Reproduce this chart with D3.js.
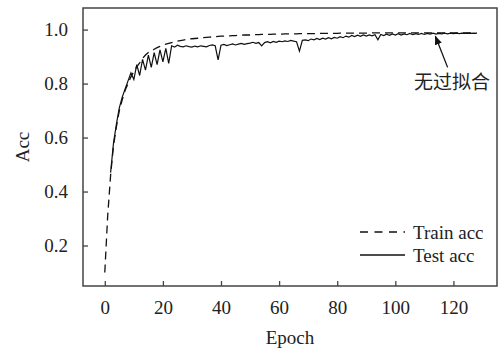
<!DOCTYPE html>
<html>
<head>
<meta charset="utf-8">
<script src="https://cdn.jsdelivr.net/npm/d3@7"></script>
<style>
  body { margin: 0; background: #fff; }
  svg { display: block; }
  text { font-family: "Liberation Serif", "Times New Roman", serif; fill: #222; }
  .cjk { font-family: "Noto Sans CJK SC", sans-serif; }
</style>
</head>
<body>
<svg id="chart" width="500" height="348"></svg>
<script>
// train accuracy, one value per epoch (0..128)
const trainAcc = [
  0.10, 0.31, 0.46, 0.57, 0.64, 0.70, 0.74, 0.775, 0.80, 0.825,
  0.845, 0.862, 0.877, 0.893, 0.906, 0.915, 0.921, 0.927, 0.933, 0.938,
  0.942, 0.946, 0.949, 0.952, 0.955, 0.957, 0.959, 0.961, 0.963, 0.965,
  0.966, 0.967, 0.968, 0.969, 0.970, 0.971, 0.972, 0.973, 0.974, 0.975,
  0.976, 0.976, 0.977, 0.977, 0.978, 0.978, 0.979, 0.979, 0.980, 0.980,
  0.980, 0.981, 0.981, 0.981, 0.982, 0.982, 0.982, 0.982, 0.983, 0.983,
  0.983, 0.983, 0.984, 0.984, 0.984, 0.984, 0.984, 0.985, 0.985, 0.985,
  0.985, 0.985, 0.985, 0.986, 0.986, 0.986, 0.986, 0.986, 0.986, 0.986,
  0.986, 0.987, 0.987, 0.987, 0.987, 0.987, 0.987, 0.987, 0.987, 0.987,
  0.987, 0.987, 0.988, 0.988, 0.988, 0.988, 0.988, 0.988, 0.988, 0.988,
  0.988, 0.988, 0.988, 0.988, 0.988, 0.988, 0.988, 0.988, 0.988, 0.988,
  0.988, 0.988, 0.988, 0.988, 0.988, 0.988, 0.988, 0.988, 0.988, 0.988,
  0.988, 0.988, 0.988, 0.988, 0.988, 0.988, 0.988, 0.988, 0.988
];
// test accuracy (no value recorded for epochs 0 and 1)
const testAcc = [
  null, null, 0.47, 0.58, 0.65, 0.71, 0.75, 0.78, 0.81, 0.84,
  0.815, 0.87, 0.83, 0.89, 0.85, 0.905, 0.86, 0.915, 0.87, 0.925,
  0.88, 0.93, 0.875, 0.94, 0.935, 0.942, 0.938, 0.936, 0.94, 0.937,
  0.935, 0.939, 0.936, 0.94, 0.938, 0.936, 0.941, 0.943, 0.94, 0.888,
  0.942, 0.945, 0.941, 0.944, 0.947, 0.943, 0.946, 0.949, 0.945, 0.948,
  0.95, 0.953, 0.949, 0.952, 0.94, 0.952, 0.955, 0.951, 0.956, 0.953,
  0.957, 0.955, 0.958, 0.956, 0.96, 0.957, 0.955, 0.92, 0.96, 0.962,
  0.959, 0.965, 0.962, 0.967, 0.963, 0.968, 0.965, 0.97, 0.966, 0.971,
  0.968, 0.974, 0.97, 0.976, 0.972, 0.978, 0.974, 0.979, 0.975, 0.98,
  0.976, 0.98, 0.977, 0.981, 0.962, 0.982, 0.978, 0.983, 0.979, 0.984,
  0.98, 0.985, 0.98, 0.984, 0.981, 0.986, 0.981, 0.985, 0.982, 0.986,
  0.982, 0.986, 0.983, 0.987, 0.983, 0.986, 0.984, 0.987, 0.984, 0.987,
  0.985, 0.987, 0.985, 0.987, 0.986, 0.987, 0.986, 0.987, 0.986
];
const xTicks = [0, 20, 40, 60, 80, 100, 120];
const yTicks = [0.2, 0.4, 0.6, 0.8, 1.0];
const seriesNames = ['Train acc', 'Test acc'];
const noteText = '无过拟合';

const width = 500, height = 348;
const margin = { top: 8, right: 3, bottom: 62, left: 83 };
const fontSize = 19;

const svg = d3.select('#chart');

const x = d3.scaleLinear().domain([-7.5, 135]).range([margin.left, width - margin.right]);
const y = d3.scaleLinear().domain([0.05, 1.08]).range([height - margin.bottom, margin.top]);

// frame
svg.append('rect')
  .attr('x', margin.left).attr('y', margin.top)
  .attr('width', width - margin.right - margin.left)
  .attr('height', height - margin.bottom - margin.top)
  .attr('fill', 'none').attr('stroke', '#444').attr('stroke-width', 1.5);

// axes with inward ticks
const styleAxis = g => {
  g.select('.domain').remove();
  g.selectAll('line').attr('stroke', '#444').attr('stroke-width', 1.3);
  g.selectAll('text').attr('font-size', fontSize).attr('fill', '#222')
    .style('font-family', '"Liberation Serif", serif');
};

const xAxis = d3.axisBottom(x).tickValues(xTicks).tickSizeInner(-5).tickSizeOuter(0).tickPadding(15);
svg.append('g')
  .attr('transform', `translate(0,${height - margin.bottom})`)
  .call(xAxis)
  .call(styleAxis);

const yAxis = d3.axisLeft(y).tickValues(yTicks).tickFormat(d3.format('.1f'))
  .tickSizeInner(-5).tickSizeOuter(0).tickPadding(15);
svg.append('g')
  .attr('transform', `translate(${margin.left},0)`)
  .call(yAxis)
  .call(styleAxis);

// axis titles
svg.append('text')
  .attr('x', (margin.left + width - margin.right) / 2).attr('y', 344)
  .attr('text-anchor', 'middle').attr('font-size', fontSize).text('Epoch');
svg.append('text')
  .attr('transform', `translate(29,${(margin.top + height - margin.bottom) / 2}) rotate(-90)`)
  .attr('text-anchor', 'middle').attr('font-size', fontSize).text('Acc');

// lines
const line = d3.line()
  .defined(d => d != null)
  .x((d, i) => x(i))
  .y(d => y(d));

svg.append('path')
  .datum(testAcc)
  .attr('d', line)
  .attr('fill', 'none').attr('stroke', '#111').attr('stroke-width', 1.2)
  .attr('stroke-linejoin', 'miter');

svg.append('path')
  .datum(trainAcc)
  .attr('d', line)
  .attr('fill', 'none').attr('stroke', '#111').attr('stroke-width', 1.3)
  .attr('stroke-dasharray', '8,5');

// annotation arrow + text
svg.append('defs').append('marker')
  .attr('id', 'arrow')
  .attr('viewBox', '0 0 10 10')
  .attr('refX', 9).attr('refY', 5)
  .attr('markerWidth', 7).attr('markerHeight', 7)
  .attr('orient', 'auto')
  .append('path').attr('d', 'M0,1 L10,5 L0,9 Z').attr('fill', '#111');

svg.append('line')
  .attr('x1', x(118)).attr('y1', y(0.86))
  .attr('x2', x(113.8)).attr('y2', y(0.975))
  .attr('stroke', '#111').attr('stroke-width', 1.3)
  .attr('marker-end', 'url(#arrow)');

svg.append('text')
  .attr('class', 'cjk')
  .attr('x', x(119.5)).attr('y', 89)
  .attr('text-anchor', 'middle').attr('font-size', 19)
  .text(noteText);

// legend
const legend = svg.append('g').attr('transform', 'translate(360,232)');
seriesNames.forEach((name, i) => {
  const row = legend.append('g').attr('transform', `translate(0,${i * 23})`);
  row.append('line')
    .attr('x1', 0).attr('x2', 45).attr('y1', 0).attr('y2', 0)
    .attr('stroke', '#111').attr('stroke-width', 1.3)
    .attr('stroke-dasharray', i === 0 ? '8,6.5' : null);
  row.append('text')
    .attr('x', 53).attr('y', 6.5)
    .attr('font-size', fontSize).text(name);
});
</script>
</body>
</html>
